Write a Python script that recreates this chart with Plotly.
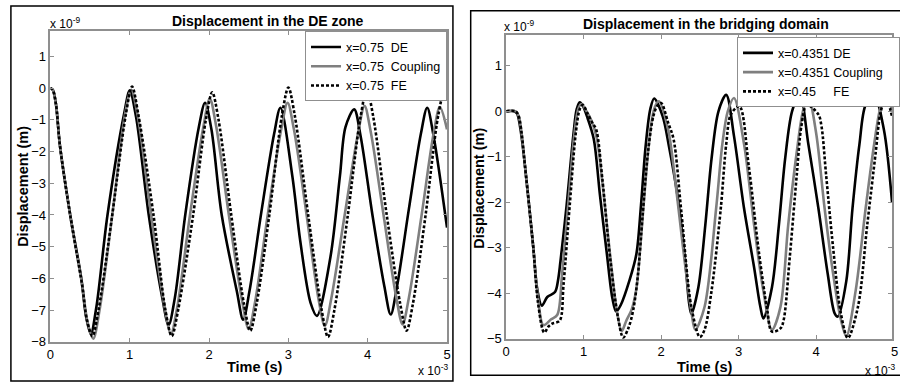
import plotly.graph_objects as go

# ---------------- Data (time in 1e-3 s, displacement in 1e-9 m) ----------------
# Left panel: Displacement in the DE zone
L_DE_t = [0, 0.03, 0.07, 0.12, 0.25, 0.39, 0.45, 0.51, 0.58, 0.72, 0.93, 1.00, 1.08, 1.24, 1.41, 1.49, 1.57, 1.70, 1.87, 1.95, 2.03, 2.16, 2.35, 2.43, 2.51, 2.66, 2.82, 2.90, 3.05, 3.15, 3.28, 3.36, 3.53, 3.65, 3.72, 3.83, 3.91, 4.06, 4.21, 4.29, 4.37, 4.52, 4.67, 4.75, 4.83, 5.0]
L_DE_y = [0, -0.05, -0.5, -1.8, -4.0, -6.0, -7.2, -7.75, -6.9, -4.0, -0.8, -0.08, -0.9, -4.0, -6.6, -7.47, -6.6, -4.0, -1.25, -0.46, -1.3, -4.0, -6.4, -7.3, -6.4, -3.9, -1.45, -0.62, -2.77, -4.82, -6.77, -7.18, -5.33, -2.77, -1.23, -0.67, -1.5, -4.0, -6.25, -7.14, -6.25, -3.8, -1.45, -0.62, -1.5, -4.4]

L_CP_t = [0, 0.03, 0.07, 0.12, 0.25, 0.40, 0.47, 0.54, 0.62, 0.78, 0.94, 1.02, 1.10, 1.27, 1.44, 1.52, 1.60, 1.76, 1.93, 2.01, 2.09, 2.25, 2.42, 2.50, 2.58, 2.74, 2.91, 2.99, 3.07, 3.23, 3.38, 3.46, 3.54, 3.71, 3.88, 3.96, 4.04, 4.20, 4.36, 4.44, 4.52, 4.68, 4.83, 4.91, 5.0]
L_CP_y = [0, -0.05, -0.5, -1.8, -4.0, -6.2, -7.4, -7.9, -7.0, -4.0, -0.85, -0.05, -0.85, -4.0, -6.9, -7.75, -6.9, -4.0, -1.2, -0.33, -1.2, -4.0, -6.75, -7.6, -6.75, -4.0, -1.3, -0.46, -1.3, -4.0, -6.65, -7.5, -6.65, -4.0, -1.4, -0.56, -1.4, -4.0, -6.6, -7.45, -6.6, -4.0, -1.45, -0.6, -1.3]

L_FE_t = [0, 0.03, 0.07, 0.12, 0.25, 0.40, 0.46, 0.53, 0.61, 0.78, 0.95, 1.03, 1.11, 1.30, 1.45, 1.53, 1.61, 1.80, 1.96, 2.04, 2.12, 2.28, 2.44, 2.52, 2.60, 2.76, 2.92, 3.00, 3.08, 3.25, 3.42, 3.50, 3.58, 3.75, 3.91, 3.99, 4.07, 4.24, 4.41, 4.49, 4.57, 4.73, 4.89, 4.97, 5.0]
L_FE_y = [0, -0.05, -0.5, -1.8, -4.0, -6.2, -7.3, -7.82, -6.95, -4.0, -0.85, 0.05, -0.85, -4.0, -7.0, -7.82, -7.0, -4.0, -1.0, -0.13, -1.0, -4.0, -6.8, -7.65, -6.8, -4.0, -0.85, 0.02, -0.85, -4.0, -7.0, -7.85, -7.0, -4.0, -0.9, -0.05, -0.9, -4.0, -6.8, -7.65, -6.8, -4.0, -0.85, -0.05, -0.2]

# Right panel: Displacement in the bridging domain
R_DE_t = [0, 0.10, 0.14, 0.18, 0.23, 0.35, 0.40, 0.46, 0.53, 0.63, 0.67, 0.70, 0.78, 0.87, 0.91, 0.95, 0.99, 1.05, 1.13, 1.21, 1.30, 1.37, 1.42, 1.48, 1.59, 1.68, 1.74, 1.80, 1.86, 1.91, 2.02, 2.10, 2.21, 2.31, 2.36, 2.39, 2.48, 2.57, 2.65, 2.74, 2.84, 2.94, 3.07, 3.20, 3.28, 3.32, 3.43, 3.52, 3.60, 3.69, 3.79, 3.90, 4.03, 4.15, 4.24, 4.28, 4.39, 4.47, 4.56, 4.64, 4.75, 4.875, 4.98]
R_DE_y = [0, 0, -0.05, -0.35, -1.0, -3.0, -3.9, -4.27, -4.08, -3.97, -3.7, -3.3, -2.06, -0.47, 0.05, 0.2, 0.12, -0.15, -0.61, -1.84, -3.14, -4.1, -4.4, -4.25, -3.72, -3.14, -2.06, -0.76, 0.05, 0.28, -0.11, -0.76, -1.84, -3.28, -4.2, -4.45, -3.87, -2.5, -1.05, 0.0, 0.36, -0.54, -2.13, -3.43, -4.29, -4.55, -3.87, -2.5, -1.05, 0.0, 0.38, -0.72, -2.13, -3.57, -4.44, -4.51, -3.73, -2.13, -0.72, 0.14, 0.34, -0.4, -1.99]

R_CP_t = [0, 0.12, 0.16, 0.20, 0.23, 0.35, 0.41, 0.48, 0.58, 0.66, 0.72, 0.80, 0.88, 0.93, 0.97, 1.03, 1.10, 1.17, 1.25, 1.35, 1.43, 1.49, 1.55, 1.62, 1.68, 1.73, 1.80, 1.87, 1.92, 1.97, 2.09, 2.18, 2.28, 2.39, 2.44, 2.56, 2.71, 2.79, 2.86, 2.94, 3.07, 3.20, 3.32, 3.43, 3.54, 3.64, 3.75, 3.83, 3.90, 4.00, 4.11, 4.22, 4.32, 4.39, 4.51, 4.64, 4.75, 4.83, 4.90, 4.98]
R_CP_y = [0, 0, -0.1, -0.5, -1.0, -3.0, -4.1, -4.7, -4.57, -4.47, -3.6, -2.06, -0.5, 0.05, 0.16, 0.02, -0.2, -0.6, -1.7, -3.3, -4.4, -4.83, -4.6, -4.35, -3.9, -3.0, -1.5, -0.3, 0.1, 0.22, -0.4, -1.5, -2.96, -4.4, -4.8, -4.3, -2.13, -0.72, 0.0, 0.29, -0.72, -2.5, -3.95, -4.8, -4.3, -2.5, -0.9, 0.0, 0.32, -0.47, -2.13, -3.57, -4.58, -4.94, -3.95, -2.13, -0.72, 0.07, 0.32, 0.04]

R_FE_t = [0, 0.12, 0.16, 0.20, 0.23, 0.35, 0.41, 0.49, 0.55, 0.60, 0.69, 0.74, 0.82, 0.90, 0.95, 0.99, 1.05, 1.11, 1.16, 1.24, 1.34, 1.44, 1.51, 1.58, 1.64, 1.70, 1.76, 1.83, 1.90, 1.95, 2.00, 2.09, 2.16, 2.26, 2.39, 2.50, 2.56, 2.65, 2.77, 2.84, 2.90, 3.01, 3.13, 3.26, 3.37, 3.43, 3.54, 3.58, 3.66, 3.75, 3.81, 3.88, 4.03, 4.07, 4.13, 4.22, 4.32, 4.41, 4.54, 4.66, 4.77, 4.83, 4.90, 4.98]
R_FE_y = [0, 0, -0.1, -0.5, -1.0, -3.0, -4.2, -4.86, -4.72, -4.66, -4.6, -3.8, -2.06, -0.45, 0.05, 0.14, -0.05, -0.25, -0.39, -1.47, -3.2, -4.5, -4.97, -4.75, -4.36, -3.6, -2.3, -0.9, -0.1, 0.12, 0.18, -0.25, -0.61, -2.2, -4.3, -4.96, -4.8, -3.95, -2.13, -0.72, -0.07, 0.11, -1.19, -3.07, -4.37, -4.84, -4.77, -4.6, -3.21, -1.41, -0.33, 0.14, -0.07, -0.33, -1.41, -3.0, -4.44, -4.98, -4.3, -2.5, -0.9, -0.04, 0.3, -0.11]

L_NAMES = ["x=0.75\u00a0\u00a0DE", "x=0.75\u00a0\u00a0Coupling", "x=0.75\u00a0\u00a0FE"]
R_NAMES = ["x=0.4351\u00a0DE", "x=0.4351\u00a0Coupling\u00a0\u00a0\u00a0", "x=0.45\u00a0\u00a0\u00a0\u00a0\u00a0FE"]
X_TICKS = [0, 1, 2, 3, 4, 5]
L_Y_TICKS = [-8, -7, -6, -5, -4, -3, -2, -1, 0, 1]
R_Y_TICKS = [-5, -4, -3, -2, -1, 0, 1]

# ---------------- Styling ----------------
W, H = 900, 390
FONT = "Liberation Sans, Arial, sans-serif"
AX_COL = "#8f8f8f"
BLACK = "#000000"
GRAY = "#7f7f7f"
LW = 2.6
DASH = "3px,2px"

def px(x):
    return x / W

def py(y):
    return 1 - y / H

fig = go.Figure()

styles = [(BLACK, "solid"), (GRAY, "solid"), (BLACK, DASH)]

for (t, y), name, (col, dash) in zip([(L_DE_t, L_DE_y), (L_CP_t, L_CP_y), (L_FE_t, L_FE_y)], L_NAMES, styles):
    fig.add_trace(go.Scatter(x=t, y=y, name=name, mode="lines", xaxis="x", yaxis="y",
                             line=dict(color=col, width=LW, dash=dash, shape="spline", smoothing=0.9),
                             legend="legend"))

for (t, y), name, (col, dash) in zip([(R_DE_t, R_DE_y), (R_CP_t, R_CP_y), (R_FE_t, R_FE_y)], R_NAMES, styles):
    fig.add_trace(go.Scatter(x=t, y=y, name=name, mode="lines", xaxis="x2", yaxis="y2",
                             line=dict(color=col, width=LW, dash=dash, shape="spline", smoothing=0.9),
                             legend="legend2"))

axis_common = dict(showline=True, linecolor=AX_COL, linewidth=1.5, mirror="ticks",
                   ticks="inside", ticklen=4, tickwidth=1, tickcolor=AX_COL,
                   showgrid=False, zeroline=False,
                   tickfont=dict(family=FONT, size=13, color="#000"))

fig.update_layout(
    width=W, height=H,
    margin=dict(l=0, r=0, t=0, b=0),
    paper_bgcolor="white", plot_bgcolor="white",
    font=dict(family=FONT, color="#000"),
    xaxis=dict(domain=[px(47), px(449)], range=[0, 5], tickvals=X_TICKS, anchor="y", **axis_common),
    yaxis=dict(domain=[py(349), py(32)], range=[-8, 1.79], tickvals=L_Y_TICKS, anchor="x", **axis_common),
    xaxis2=dict(domain=[px(509), 1.0], range=[0, 4.98], tickvals=X_TICKS, anchor="y2", **axis_common),
    yaxis2=dict(domain=[py(346), py(36)], range=[-5, 1.67], tickvals=R_Y_TICKS, anchor="x2", **axis_common),
    legend=dict(x=px(449), y=py(32), xanchor="right", yanchor="top",
                bgcolor="white", bordercolor=AX_COL, borderwidth=1,
                font=dict(family=FONT, size=12.5, color="#000"),
                tracegroupgap=0, itemwidth=30),
    legend2=dict(x=px(743), y=py(38), xanchor="left", yanchor="top",
                 bgcolor="white", bordercolor=AX_COL, borderwidth=1,
                 font=dict(family=FONT, size=12.5, color="#000"),
                 tracegroupgap=0, itemwidth=30),
    showlegend=True,
)

# Panel frames
fig.add_shape(type="rect", xref="paper", yref="paper", x0=px(7), x1=px(455), y0=py(389), y1=py(6),
              line=dict(color="#000", width=1.5), fillcolor="rgba(0,0,0,0)", layer="above")
fig.add_shape(type="rect", xref="paper", yref="paper", x0=px(473), x1=px(910), y0=py(383), y1=py(11),
              line=dict(color="#000", width=1.5), fillcolor="rgba(0,0,0,0)", layer="above")

ann = []
def text(x, y, s, size=14, bold=False, xanchor="center", yanchor="middle", angle=0):
    ann.append(dict(x=px(x), y=py(y), xref="paper", yref="paper", text=("<b>%s</b>" % s) if bold else s,
                    showarrow=False, xanchor=xanchor, yanchor=yanchor, textangle=angle,
                    font=dict(family=FONT, size=size, color="#000")))

text(268, 21, "Displacement in the DE zone", 14, True)
text(711, 24, "Displacement in the bridging domain", 14, True)
text(254, 375, "Time (s)", 14.5, True)
text(710, 375, "Time (s)", 14.5, True)
text(19, 190, "Displacement (m)", 14.5, True, angle=-90)
text(481, 192, "Displacement (m)", 14.5, True, angle=-90)
text(45, 23, "x 10<sup>-9</sup>", 12, xanchor="left")
text(505, 27, "x 10<sup>-9</sup>", 12, xanchor="left")
text(418, 378, "x 10<sup>-3</sup>", 12, xanchor="left")
text(871, 378, "x 10<sup>-3</sup>", 12, xanchor="left")
text(903, 359, "5", 13)
fig.update_layout(annotations=ann)

fig.write_html("out.html")
